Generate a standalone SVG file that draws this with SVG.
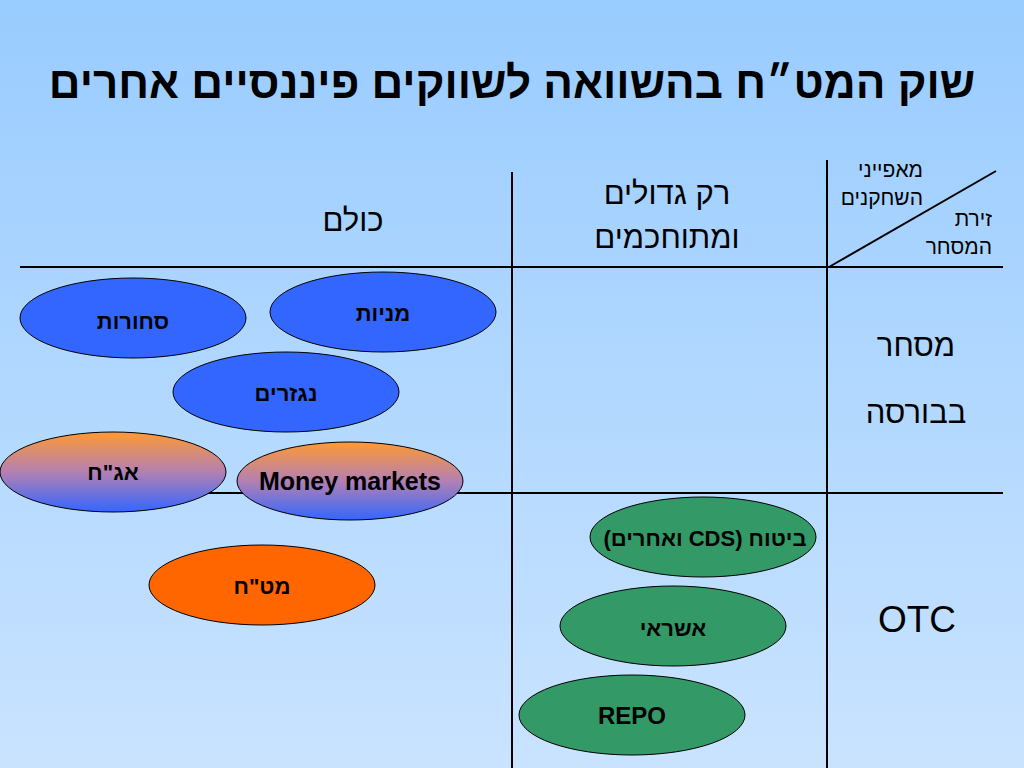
<svg xmlns="http://www.w3.org/2000/svg" width="1024" height="768" viewBox="0 0 1024 768">
<defs>
<linearGradient id="bg" x1="0" y1="0" x2="0" y2="1">
<stop offset="0" stop-color="#99CCFF"/>
<stop offset="1" stop-color="#C9E3FF"/>
</linearGradient>
<linearGradient id="og" x1="0" y1="0" x2="0" y2="1">
<stop offset="0" stop-color="#FF9933"/>
<stop offset="0.5" stop-color="#B380B3"/>
<stop offset="1" stop-color="#3366FF"/>
</linearGradient>
</defs>
<style>
.t{font-family:"Liberation Sans","DejaVu Sans",sans-serif;fill:#000}
.h{font-size:31px;text-anchor:middle}
.c{font-size:21px;text-anchor:start}
.lb{font-size:22px;font-weight:bold;text-anchor:middle}
.la{font-size:24px;font-weight:bold;text-anchor:middle}
.ln{stroke:#000;stroke-width:2;fill:none}
.el{stroke:#000;stroke-width:1}
.blue{fill:#3366FF}
.green{fill:#339966}
.orange{fill:#FF6600}
.grad{fill:url(#og)}
</style>
<rect width="1024" height="768" fill="url(#bg)"/>
<text class="t" x="512" y="98" direction="rtl" text-anchor="middle" font-size="44" font-weight="bold">שוק המט״ח בהשוואה לשווקים פיננסיים אחרים</text>

<g id="connectors">
<line class="ln" x1="20" y1="267" x2="1003" y2="267"/>
<line class="ln" x1="20" y1="493" x2="1003" y2="493"/>
<line class="ln" x1="512" y1="172" x2="512" y2="768"/>
<line class="ln" x1="827" y1="160" x2="827" y2="768"/>
<line class="ln" x1="829" y1="267" x2="996" y2="171"/>
</g>

<g id="headers">
<text class="t h" x="353" y="231" direction="rtl">כולם</text>
<text class="t h" x="667" y="204" direction="rtl">רק גדולים</text>
<text class="t h" x="667" y="248" direction="rtl">ומתוחכמים</text>
<text class="t h" x="916" y="356" direction="rtl">מסחר</text>
<text class="t h" x="916" y="423" direction="rtl">בבורסה</text>
<text class="t" x="917" y="632" font-size="37" text-anchor="middle">OTC</text>
<text class="t c" x="923" y="177" direction="rtl">מאפייני</text>
<text class="t c" x="923" y="205" direction="rtl">השחקנים</text>
<text class="t c" x="992" y="226" direction="rtl">זירת</text>
<text class="t c" x="992" y="254" direction="rtl">המסחר</text>
</g>

<g id="n-sehorot"><ellipse class="el blue" cx="133" cy="318" rx="113" ry="40"/><text class="t lb" x="133" y="329" direction="rtl">סחורות</text></g>
<g id="n-menayot"><ellipse class="el blue" cx="383" cy="312" rx="113" ry="40"/><text class="t lb" x="383" y="321" direction="rtl">מניות</text></g>
<g id="n-nigzarim"><ellipse class="el blue" cx="286" cy="392" rx="113" ry="40"/><text class="t lb" x="286" y="401" direction="rtl">נגזרים</text></g>
<g id="n-agah"><ellipse class="el grad" cx="113" cy="472" rx="113" ry="40"/><text class="t lb" x="113" y="480" direction="rtl">אג"ח</text></g>
<g id="n-money"><ellipse class="el grad" cx="350" cy="481" rx="113" ry="39"/><text class="t" x="350" y="490" font-size="25" font-weight="bold" text-anchor="middle">Money markets</text></g>
<g id="n-matah"><ellipse class="el orange" cx="262" cy="585" rx="113" ry="40"/><text class="t lb" x="262" y="594" direction="rtl">מט"ח</text></g>
<g id="n-bituah"><ellipse class="el green" cx="703" cy="537" rx="113" ry="40"/><text class="t lb" x="705" y="546" direction="rtl">ביטוח (CDS ואחרים)</text></g>
<g id="n-ashrai"><ellipse class="el green" cx="673" cy="626" rx="113" ry="40"/><text class="t lb" x="673" y="636" direction="rtl">אשראי</text></g>
<g id="n-repo"><ellipse class="el green" cx="632" cy="715" rx="113" ry="40"/><text class="t la" x="632" y="724">REPO</text></g>
</svg>
